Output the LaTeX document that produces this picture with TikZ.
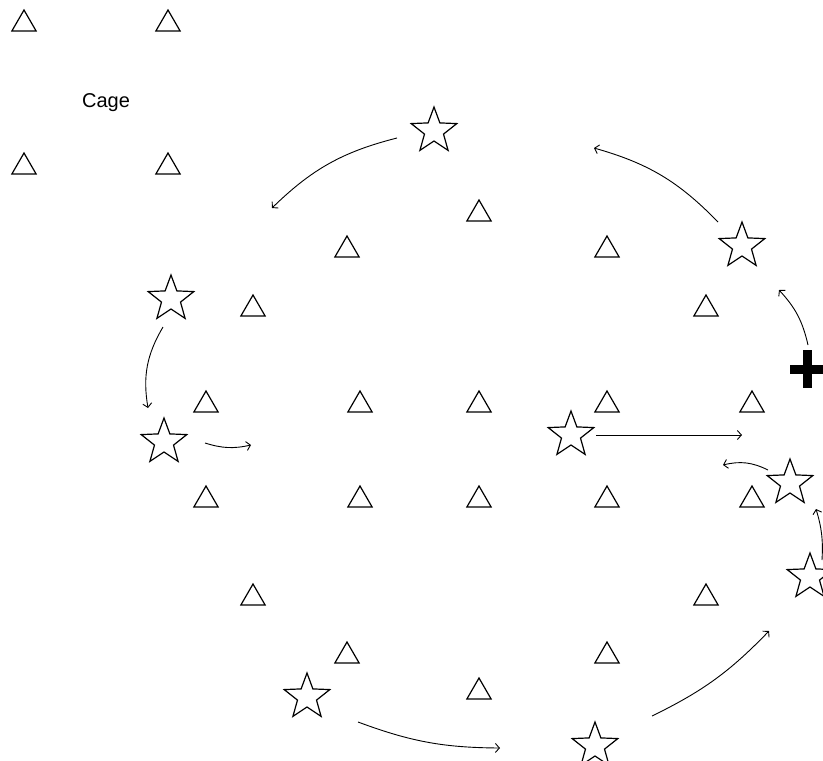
\documentclass[tikz,border=0pt]{standalone}
\usepackage{fontspec}
\setmainfont{Liberation Sans}
\usetikzlibrary{shapes.geometric,arrows.meta}
\tikzset{
	post/.style={draw,regular polygon,regular polygon sides=3,minimum size=28pt,inner sep=0pt,line width=1.2pt},
	runner/.style={draw,star,star points=5,star point ratio=2.4,minimum size=48pt,inner sep=0pt,line width=1.2pt},
	trail/.style={-{Straight Barb[length=4pt,width=9pt]},line width=0.9pt},
}
\begin{document}
\begin{tikzpicture}[x=1pt,y=-1pt]
	\useasboundingbox (0,0) rectangle (823,761);
	\node[post] (t1) at (24,24) {};
	\node[post] (t2) at (168,24) {};
	\node[post] (t3) at (24,167) {};
	\node[post] (t4) at (168,167) {};
	\node[font=\fontsize{20}{24}\selectfont,anchor=base] (cage) at (106,107) {Cage};
	\node[post] (t5) at (479,214) {};
	\node[post] (t6) at (347,250) {};
	\node[post] (t7) at (607,250) {};
	\node[post] (t8) at (253,309) {};
	\node[post] (t9) at (706,309) {};
	\node[post] (t10) at (206,405) {};
	\node[post] (t11) at (360,405) {};
	\node[post] (t12) at (479,405) {};
	\node[post] (t13) at (607,405) {};
	\node[post] (t14) at (752,405) {};
	\node[post] (t15) at (206,500) {};
	\node[post] (t16) at (360,500) {};
	\node[post] (t17) at (479,500) {};
	\node[post] (t18) at (607,500) {};
	\node[post] (t19) at (752,500) {};
	\node[post] (t20) at (253,598) {};
	\node[post] (t21) at (706,598) {};
	\node[post] (t22) at (347,656) {};
	\node[post] (t23) at (607,656) {};
	\node[post] (t24) at (479,692) {};
	\node[runner] (s1) at (434,131) {};
	\node[runner] (s2) at (742,246) {};
	\node[runner] (s3) at (171,299) {};
	\node[runner] (s4) at (164,442) {};
	\node[runner] (s5) at (571,435) {};
	\node[runner] (s6) at (790,483) {};
	\node[runner] (s7) at (810,577) {};
	\node[runner] (s8) at (307,697) {};
	\node[runner] (s9) at (595,746) {};
	\coordinate (plus) at (807,369);
	\draw[line width=9pt] ([xshift=-17pt]plus) -- ([xshift=17pt]plus);
	\draw[line width=9pt] ([yshift=19pt]plus) -- ([yshift=-19pt]plus);
	\coordinate (a1) at (397,138);   \coordinate (b1) at (272,208);
	\coordinate (a2) at (718,222);   \coordinate (b2) at (594,148);
	\coordinate (a3) at (808,345);   \coordinate (b3) at (779,290);
	\coordinate (a4) at (163,327);   \coordinate (b4) at (148,408);
	\coordinate (a5) at (205,443);   \coordinate (b5) at (251,445);
	\coordinate (a6) at (596,435);   \coordinate (b6) at (742,435);
	\coordinate (a7) at (768,470);   \coordinate (b7) at (723,465);
	\coordinate (a8) at (822,560);   \coordinate (b8) at (816,509);
	\coordinate (a9) at (358,722);   \coordinate (b9) at (500,748);
	\coordinate (a10) at (652,716);  \coordinate (b10) at (769,631);
	\draw[trail] (a1) to[bend right=15] (b1);
	\draw[trail] (a2) to[bend right=15] (b2);
	\draw[trail] (a3) to[bend right=15] (b3);
	\draw[trail] (a4) to[bend right=20] (b4);
	\draw[trail] (a5) to[bend right=15] (b5);
	\draw[trail] (a6) -- (b6);
	\draw[trail] (a7) to[bend right=20] (b7);
	\draw[trail] (a8) to[bend right=10] (b8);
	\draw[trail] (a9) to[bend right=10] (b9);
	\draw[trail] (a10) to[bend right=10] (b10);
\end{tikzpicture}
\end{document}
